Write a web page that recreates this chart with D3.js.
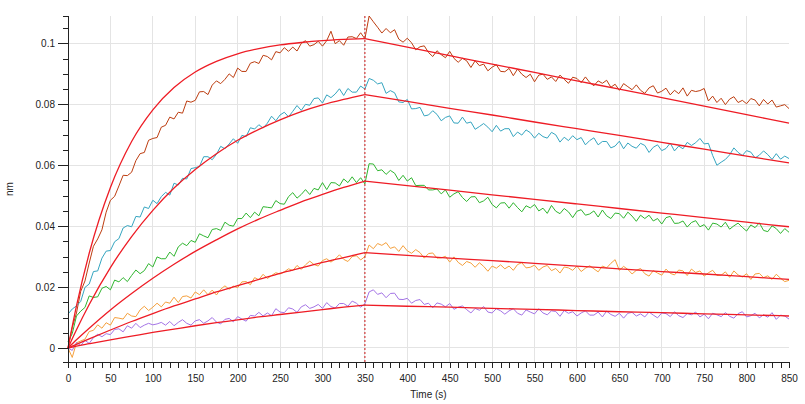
<!DOCTYPE html>
<meta charset="utf-8"/>
<head>
<style>
  body { margin: 0; background: #fff; }
  svg { background: #fff; }
  text { font-family: "Liberation Sans", Arial, sans-serif; font-size: 10px; fill: #222; }
  .grid line { stroke: #e4e4e4; stroke-width: 1px; shape-rendering: crispEdges; }
  .axis path, .axis line { stroke: #222; shape-rendering: crispEdges; }
  .trace { fill: none; stroke-width: 1px; stroke-linejoin: round; }
  .fit { fill: none; stroke: #ee1c25; stroke-width: 1.3px; }
</style>
</head>
<script src="https://d3js.org/d3.v7.min.js"></script>
<body>
<div id="chart"></div>
<script type="text/javascript">

// sensor traces, sampled every 5 s from 0 to 850 s, values in 1e-4 nm
var times = d3.range(0, 851, 5);

var trace1 = [0,67,115,186,220,279,334,358,388,446,
  485,498,532,567,566,577,615,638,642,682,
  688,691,725,731,758,752,774,771,811,807,
  813,841,842,832,863,877,868,882,900,888,
  919,908,908,935,940,934,961,957,946,973,
  969,986,974,988,975,1000,1009,991,996,1007,
  991,1009,1040,999,1009,994,1021,1022,1016,1035,
  1015,1090,1071,1053,1034,1049,1035,1045,1014,1004,
  1017,1002,979,989,992,970,957,976,963,953,
  974,951,938,951,943,921,943,927,932,910,
  922,930,908,907,918,894,916,899,888,899,
  874,896,899,882,890,875,896,882,869,889,
  885,871,890,872,861,877,869,879,856,866,
  846,868,858,848,864,846,836,854,861,837,
  843,853,831,846,835,854,827,846,842,845,
  852,811,827,806,820,799,817,825,806,813,
  802,819,814,795,816,801,814,791,795,799,786];

var trace2 = [111,128,138,153,199,210,251,253,295,318,
  320,349,359,394,402,398,432,430,463,458,
  485,474,497,511,502,541,535,557,555,589,
  592,596,628,628,618,636,662,654,670,687,
  672,698,694,723,719,733,722,738,761,746,
  765,774,759,777,796,780,800,797,819,821,
  804,831,822,834,851,829,852,840,840,860,
  850,885,879,867,871,836,845,838,808,806,
  816,785,786,790,762,765,779,767,746,757,
  762,739,738,758,738,742,718,727,737,725,
  710,731,712,720,720,694,709,699,716,707,
  689,705,694,689,708,700,676,692,681,697,
  684,691,667,681,690,667,678,678,657,663,
  679,654,673,662,656,672,665,642,659,667,
  648,655,673,647,663,654,675,665,674,688,
  670,672,632,600,610,619,634,657,642,632,
  648,643,624,633,647,635,619,638,620,630,622];

var trace3 = [20,47,105,121,133,171,166,168,196,202,
  191,223,217,231,218,238,256,244,254,277,
  266,299,293,293,315,301,332,344,336,353,
  347,375,368,362,389,392,386,413,403,400,
  425,425,443,428,446,434,464,462,460,484,
  474,472,497,510,492,504,520,504,524,519,
  543,520,543,542,532,555,543,562,543,559,
  539,605,604,582,585,570,583,574,550,567,
  548,559,533,534,534,519,519,522,506,519,
  495,506,513,494,481,496,497,477,483,495,
  471,460,476,477,459,477,461,447,467,460,
  471,450,459,442,468,449,441,458,447,428,
  449,454,436,440,450,430,453,434,425,443,
  441,426,446,433,416,436,425,436,417,425,
  407,428,432,409,410,417,397,412,418,398,
  405,387,410,407,397,413,390,401,410,396,
  384,404,395,411,386,382,401,392,376,392,380];

var trace4 = [0,-31,17,23,29,54,58,76,65,83,
  75,100,98,95,114,105,103,125,137,123,
  134,147,135,151,147,167,149,169,171,164,
  184,175,191,175,190,174,193,204,193,203,
  198,217,218,208,231,224,242,228,238,247,
  243,250,260,254,271,258,273,285,274,269,
  287,293,282,292,306,291,284,300,303,289,
  300,338,326,343,337,346,327,332,317,336,
  319,311,323,313,295,310,312,295,296,301,
  282,299,281,271,284,279,265,280,268,252,
  269,262,273,260,269,255,274,280,263,265,
  272,255,266,271,254,261,246,266,263,255,
  269,251,262,270,260,250,269,263,278,290,
  255,268,258,243,255,261,244,236,254,246,
  239,259,245,240,256,253,238,259,248,253,
  236,247,255,238,239,250,232,253,240,233,
  244,225,243,245,231,237,225,242,229,218,222];

var trace5 = [0,-8,18,8,25,15,34,45,37,47,
  44,61,63,53,73,65,81,67,75,81,
  76,79,84,75,87,73,84,93,81,75,
  89,93,81,89,100,85,79,94,97,86,
  103,95,88,107,105,117,105,115,106,129,
  118,116,132,128,117,135,142,130,135,143,
  130,149,136,131,146,146,137,154,147,134,
  145,184,191,176,181,165,179,180,160,159,
  163,147,156,159,143,147,132,148,144,135,
  146,127,134,138,126,115,130,124,136,118,
  115,129,122,111,122,129,114,108,125,118,
  112,129,115,109,122,120,104,123,114,119,
  105,115,122,108,108,118,102,121,110,104,
  114,98,114,117,105,112,102,118,108,99,
  115,113,103,119,106,100,113,109,118,102,
  111,96,114,109,103,116,104,98,113,119,
  102,106,114,99,109,101,116,94,108,105,95];

// fitted curves (nm): association 0-350 s, dissociation 350-850 s
var assocTimes = [0,10,25,50,75,100,125,150,175,200,225,250,275,300,325,350];
var dissocTimes = [350,400,450,500,550,600,650,700,750,800,850];

var fit1Assoc = [0,0.0138,0.0311,0.0527,0.0678,0.0782,0.0855,0.0906,0.0941,0.0966,0.0983,0.0995,0.1003,0.1009,0.1013,0.1016];
var fit2Assoc = [0,0.0060,0.0143,0.0264,0.0366,0.0452,0.0525,0.0586,0.0638,0.0682,0.0718,0.0749,0.0776,0.0798,0.0816,0.0832];
var fit3Assoc = [0,0.0027,0.0065,0.0125,0.0179,0.0229,0.0275,0.0317,0.0355,0.0391,0.0423,0.0452,0.0480,0.0504,0.0527,0.0548];
var fit4Assoc = [0,0.0012,0.0030,0.0059,0.0087,0.0113,0.0138,0.0161,0.0184,0.0205,0.0225,0.0245,0.0263,0.0281,0.0297,0.0313];
var fit5Assoc = [0,0.0006,0.0014,0.0027,0.0039,0.0051,0.0062,0.0073,0.0083,0.0092,0.0102,0.0110,0.0118,0.0126,0.0134,0.0141];

var fit1Dissoc = [0.1016,0.0988,0.0960,0.0932,0.0905,0.0877,0.0850,0.0822,0.0794,0.0766,0.0738];
var fit2Dissoc = [0.0832,0.0810,0.0787,0.0765,0.0742,0.0720,0.0698,0.0675,0.0653,0.0630,0.0608];
var fit3Dissoc = [0.0548,0.0533,0.0518,0.0503,0.0488,0.0473,0.0458,0.0443,0.0428,0.0413,0.0398];
var fit4Dissoc = [0.0313,0.0304,0.0295,0.0287,0.0278,0.0269,0.0260,0.0251,0.0243,0.0234,0.0225];
var fit5Dissoc = [0.0141,0.0137,0.0134,0.0130,0.0127,0.0123,0.0119,0.0116,0.0112,0.0109,0.0105];

var traceColors = ["#bd3d10", "#35a5c0", "#2fb52f", "#f5a03c", "#a474e6"];
var xTickLabels = [0,50,100,150,200,250,300,350,400,450,500,550,600,650,700,750,800,850];
var yTickLabels = [0,0.02,0.04,0.06,0.08,0.1];
var switchTime = 350;

var traces = [trace1, trace2, trace3, trace4, trace5];
var fitsAssoc = [fit1Assoc, fit2Assoc, fit3Assoc, fit4Assoc, fit5Assoc];
var fitsDissoc = [fit1Dissoc, fit2Dissoc, fit3Dissoc, fit4Dissoc, fit5Dissoc];

var width = 805, height = 404;
var plot = { left: 68, right: 789, top: 16, bottom: 362 };

var x = d3.scaleLinear().domain([0, 850]).range([plot.left, plot.right]);
var y = d3.scaleLinear().domain([-0.0046, 0.109]).range([plot.bottom, plot.top]);

var svg = d3.select("#chart").append("svg")
    .attr("width", width)
    .attr("height", height);

// grid
var grid = svg.append("g").attr("class", "grid");
grid.selectAll(".gx")
    .data(xTickLabels.filter(function(d) { return d > 0 && d < 850; }))
  .enter().append("line")
    .attr("x1", function(d) { return x(d); })
    .attr("x2", function(d) { return x(d); })
    .attr("y1", plot.top)
    .attr("y2", plot.bottom);
grid.selectAll(".gy")
    .data(yTickLabels)
  .enter().append("line")
    .attr("x1", plot.left)
    .attr("x2", plot.right)
    .attr("y1", function(d) { return y(d); })
    .attr("y2", function(d) { return y(d); });

// noisy traces
var traceLine = d3.line()
    .x(function(d, i) { return x(times[i]); })
    .y(function(d) { return y(d / 1e4); });

svg.selectAll(".trace")
    .data(traces)
  .enter().append("path")
    .attr("class", "trace")
    .attr("stroke", function(d, i) { return traceColors[i]; })
    .attr("d", traceLine);

// fits
var assocLine = d3.line()
    .x(function(d, i) { return x(assocTimes[i]); })
    .y(function(d) { return y(d); })
    .curve(d3.curveMonotoneX);
var dissocLine = d3.line()
    .x(function(d, i) { return x(dissocTimes[i]); })
    .y(function(d) { return y(d); })
    .curve(d3.curveMonotoneX);

svg.selectAll(".fitA")
    .data(fitsAssoc)
  .enter().append("path")
    .attr("class", "fit")
    .attr("d", assocLine);
svg.selectAll(".fitD")
    .data(fitsDissoc)
  .enter().append("path")
    .attr("class", "fit")
    .attr("d", dissocLine);

// association / dissociation switch
svg.append("line")
    .attr("x1", x(switchTime)).attr("x2", x(switchTime))
    .attr("y1", plot.top).attr("y2", plot.bottom)
    .attr("stroke", "#d23a3a")
    .attr("stroke-width", 1.2)
    .attr("stroke-dasharray", "2,2");

// axes
var xAxis = d3.axisBottom(x)
    .tickValues(d3.range(0, 851, 10))
    .tickSize(6)
    .tickPadding(7)
    .tickFormat(function(d) { return xTickLabels.indexOf(d) >= 0 ? d : ""; });

svg.append("g")
    .attr("class", "axis")
    .attr("transform", "translate(0," + plot.bottom + ")")
    .call(xAxis)
    .call(function(g) { g.select(".domain").attr("d", "M" + plot.left + ",0.5H" + plot.right); });

var yMinor = d3.axisLeft(y)
    .tickValues(d3.range(0, 0.1051, 0.005))
    .tickSize(5)
    .tickFormat("");
svg.append("g")
    .attr("class", "axis")
    .attr("transform", "translate(" + plot.left + ",0)")
    .call(yMinor);

var yAxis = d3.axisLeft(y)
    .tickValues(yTickLabels)
    .tickSize(10)
    .tickPadding(3)
    .tickFormat(function(d) { return d === 0 ? "0" : d3.format("~g")(d); });
svg.append("g")
    .attr("class", "axis")
    .attr("transform", "translate(" + plot.left + ",0)")
    .call(yAxis)
    .call(function(g) { g.select(".domain").attr("d", "M0.5," + plot.top + "V" + plot.bottom); });

svg.selectAll(".axis text").style("font-size", "10px").attr("fill", "#222");

// axis titles
svg.append("text")
    .attr("x", (plot.left + plot.right) / 2)
    .attr("y", 398)
    .attr("text-anchor", "middle")
    .text("Time (s)");

svg.append("text")
    .attr("transform", "translate(13," + ((plot.top + plot.bottom) / 2) + ") rotate(-90)")
    .attr("text-anchor", "middle")
    .text("nm");

</script>
</body>
